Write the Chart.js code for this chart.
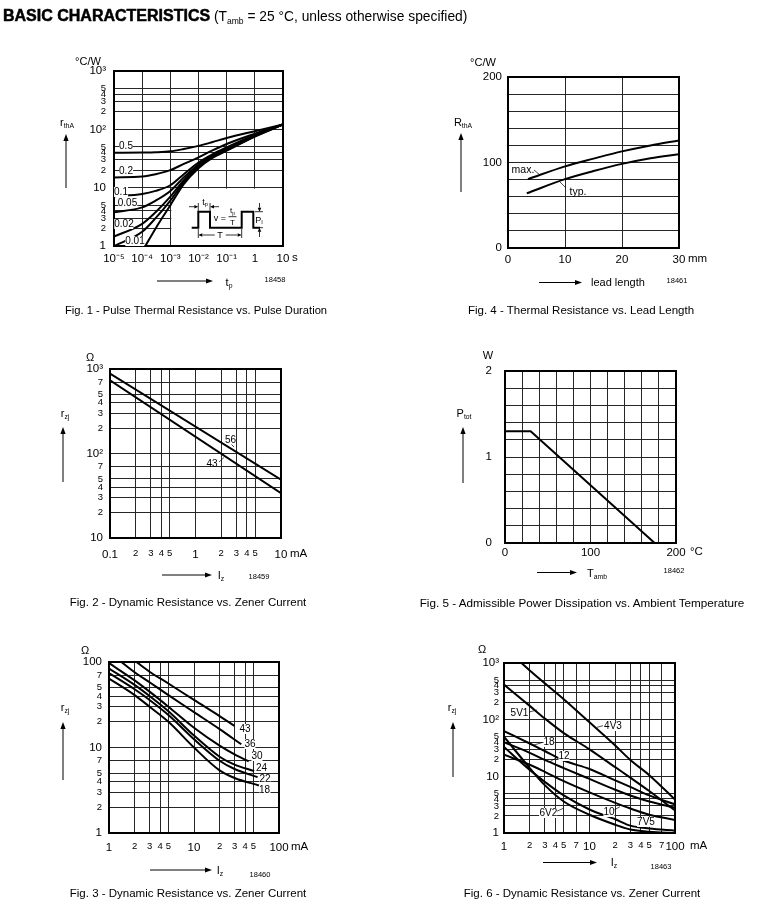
<!DOCTYPE html>
<html>
<head>
<meta charset="utf-8">
<script src="https://cdn.jsdelivr.net/npm/chart.js@4.4.1/dist/chart.umd.min.js"></script>
<style>
  body { margin:0; width:775px; height:917px; background:#fff; position:relative; overflow:hidden;
         font-family:"Liberation Sans", Arial, Helvetica, sans-serif; color:#000; }
  canvas { position:absolute; z-index:1; }
  #over { position:absolute; left:0; top:0; z-index:2; }
  .t { position:absolute; white-space:nowrap; line-height:1; z-index:3; }
  .t sub { font-size:62%; vertical-align:-0.35em; line-height:0; }
  .bg { background:#fff; }
</style>
</head>
<body>
<div class="t" style="left:3px;top:8px;font-size:13.8px"><b style="font-size:16px;-webkit-text-stroke:0.5px #000">BASIC CHARACTERISTICS</b> (T<sub>amb</sub> = 25 °C, unless otherwise specified)</div>
<svg id="over" width="775" height="917"></svg>
<script>
// ---- Fig. 1 - pulse thermal resistance vs. pulse duration (duty cycle v)
const f1Time = [1e-5, 1e-4, 3e-4, 1e-3, 3e-3, 1e-2, 3e-2, 1e-1, 1, 10];
const f1Duty05 = [39.5, 40, 40.5, 42, 46, 52, 60, 71, 93, 121];
const f1Duty02 = [15, 15.5, 17, 20, 25.5, 33, 43, 56, 84, 121];
const f1Duty01 = [7.1, 7.8, 8.8, 11, 17, 27, 37, 49, 80, 121];
const f1Duty005 = [3.8, 4.6, 6, 8.8, 15, 25, 35, 47, 78, 121];
const f1Duty002 = [1.45, 2.4, 3.8, 7, 13.5, 23.5, 34, 45, 77, 121];
const f1Duty001 = [1.0, 1.75, 3.0, 6, 12.5, 22.5, 33, 44, 76, 121];
const f1SingleTime = [1.3e-4, 3e-4, 1e-3, 3e-3, 1e-2, 3e-2, 1e-1, 1, 10];
const f1Single = [1, 2, 5, 11.5, 21.5, 32, 43, 75, 121];
const f1XTicks = [1e-5, 1e-4, 1e-3, 1e-2, 1e-1, 1, 10];
const f1XLabels = ['10⁻⁵', '10⁻⁴', '10⁻³', '10⁻²', '10⁻¹', '1', '10'];
const f1YTicks = [1, 2, 3, 4, 5, 10, 20, 30, 40, 50, 100, 200, 300, 400, 500, 1000];
const f1YLabels = ['1', '2', '3', '4', '5', '10', '2', '3', '4', '5', '10²', '2', '3', '4', '5', '10³'];
const f1InsetCorner = [1e-3, 10];

// ---- Fig. 4 - thermal resistance vs. lead length
const f4MaxLen = [3.5, 10, 15, 20, 25, 30];
const f4Max = [80.5, 95.5, 104.5, 113, 120, 125.8];
const f4TypLen = [3.3, 10, 15, 20, 25, 30];
const f4Typ = [64, 80.5, 90, 98.4, 105, 109.8];
const f4XTicks = [0, 10, 20, 30];
const f4XLabels = ['0', '10', '20', '30'];
const f4YTicks = [0, 20, 40, 60, 80, 100, 120, 140, 160, 180, 200];
const f4YLabels = ['0', '', '', '', '', '100', '', '', '', '', '200'];

// ---- Fig. 2 - dynamic resistance vs. zener current (43 V, 56 V)
const f2Current = [0.1, 10];
const f2Rz56 = [880, 49];
const f2Rz43 = [735, 34];
const f2XTicks = [0.1, 0.2, 0.3, 0.4, 0.5, 1, 2, 3, 4, 5, 10];
const f2XLabels = ['0.1', '2', '3', '4', '5', '1', '2', '3', '4', '5', '10'];
const f2YTicks = [10, 20, 30, 40, 50, 70, 100, 200, 300, 400, 500, 700, 1000];
const f2YLabels = ['10', '2', '3', '4', '5', '7', '10²', '2', '3', '4', '5', '7', '10³'];

// ---- Fig. 5 - admissible power dissipation vs. ambient temperature
const f5Temp = [0, 30, 175];
const f5Ptot = [1.3, 1.3, 0];
const f5XTicks = [0, 20, 40, 60, 80, 100, 120, 140, 160, 180, 200];
const f5XLabels = ['0', '', '', '', '', '100', '', '', '', '', '200'];
const f5YTicks = [0, 0.2, 0.4, 0.6, 0.8, 1, 1.2, 1.4, 1.6, 1.8, 2];
const f5YLabels = ['0', '', '', '', '', '1', '', '', '', '', '2'];

// ---- Fig. 3 - dynamic resistance vs. zener current (18 ... 43 V)
const f3I43 = [2.1, 3, 5, 10, 20, 30];
const f3Rz43 = [100, 77, 56, 36, 23.3, 17.9];
const f3I36 = [1.4, 2, 3, 5, 10, 20, 36];
const f3Rz36 = [100, 76, 58, 41, 25.9, 16.4, 10.9];
const f3I30 = [1, 2, 3, 5, 10, 20, 30, 44];
const f3Rz30 = [97, 61, 45, 30, 17, 10.5, 8.3, 6.9];
const f3I24 = [1, 2, 3, 5, 10, 20, 30, 51];
const f3Rz24 = [84, 54, 40, 26.5, 13.8, 7.8, 6.3, 5.3];
const f3I22 = [1, 2, 3, 5, 10, 20, 30, 56];
const f3Rz22 = [74, 48, 36, 24, 12.5, 7, 5.6, 4.5];
const f3I18 = [1, 2, 3, 5, 10, 20, 30, 58];
const f3Rz18 = [64, 41, 30, 20, 10, 5.4, 4.4, 3.6];
const f3XTicks = [1, 2, 3, 4, 5, 10, 20, 30, 40, 50, 100];
const f3XLabels = ['1', '2', '3', '4', '5', '10', '2', '3', '4', '5', '100'];
const f3YTicks = [1, 2, 3, 4, 5, 7, 10, 20, 30, 40, 50, 70, 100];
const f3YLabels = ['1', '2', '3', '4', '5', '7', '10', '2', '3', '4', '5', '7', '100'];

// ---- Fig. 6 - dynamic resistance vs. zener current (4V3 ... 18 V)
const f6I4V3 = [1.6, 2, 3, 5, 10, 20, 30, 50, 100];
const f6Rz4V3 = [1000, 740, 440, 230, 90, 35, 19.5, 10.5, 3.9];
const f6Current = [1, 2, 3, 5, 10, 20, 30, 50, 100];
const f6Rz5V1 = [415, 175, 105, 58, 30, 14.5, 9.5, 5.5, 2.5];
const f6Rz18 = [63, 38, 28, 19, 13.5, 8.5, 6.5, 4.6, 3.2];
const f6Rz12 = [40, 26, 19.5, 14, 9, 5.8, 4.6, 3.6, 2.8];
const f6Rz10 = [24, 16, 12, 8.2, 5.2, 3.4, 2.7, 2.1, 1.7];
const f6Rz6V2 = [50, 14, 7, 3.6, 2.1, 1.4, 1.15, 1.05, 1.0];
const f6Rz7V5 = [33, 13, 8, 4.6, 2.6, 1.75, 1.35, 1.2, 1.1];
const f6XTicks = [1, 2, 3, 4, 5, 7, 10, 20, 30, 40, 50, 70, 100];
const f6XLabels = ['1', '2', '3', '4', '5', '7', '10', '2', '3', '4', '5', '7', '100'];
const f6YTicks = [1, 2, 3, 4, 5, 10, 20, 30, 40, 50, 100, 200, 300, 400, 500, 1000];
const f6YLabels = ['1', '2', '3', '4', '5', '10', '2', '3', '4', '5', '10²', '2', '3', '4', '5', '10³'];

// plot rectangles on the page [left, top, right, bottom]
const BOX1 = [114, 71, 283, 246];
const BOX4 = [508, 77, 679, 248];
const BOX2 = [110, 369, 281, 538];
const BOX5 = [505, 371, 676, 543];
const BOX3 = [109, 662, 279, 833];
const BOX6 = [504, 663, 675, 833];

Chart.defaults.font.family = 'Liberation Sans';
const INK = '#000', GRID = '#262626';

function pts(xs, ys) { return xs.map((x, i) => ({x: x, y: ys[i]})); }

function isMinor(type, v) {
  if (type !== 'logarithmic') return false;
  const l = Math.log10(v);
  return Math.abs(l - Math.round(l)) > 1e-9;
}

function scale(a, dir, size) {
  return {
    type: a.type, min: a.min, max: a.max,
    afterBuildTicks: s => { s.ticks = a.ticks.map(v => ({value: v})); },
    afterFit: s => {
      if (dir === 'x') s.height = size; else s.width = size;
      s.paddingLeft = s.paddingRight = s.paddingTop = s.paddingBottom = 0;
    },
    grid: {color: GRID, lineWidth: 1, drawTicks: false},
    border: {display: false},
    ticks: {
      autoSkip: false, maxRotation: 0, minRotation: 0, padding: a.pad, color: INK,
      font: c => ({family: 'Liberation Sans', size: isMinor(a.type, a.ticks[c.index]) ? 9.5 : 11.5}),
      callback: (v, i) => a.labels[i]
    }
  };
}

const frame = {
  id: 'frame',
  afterDatasetsDraw(c) {
    const a = c.chartArea, g = c.ctx;
    g.save();
    g.lineWidth = 2; g.strokeStyle = INK;
    g.strokeRect(a.left, a.top, a.right - a.left, a.bottom - a.top);
    g.restore();
  }
};

function plot(box, xa, ya, sets, extra) {
  const padL = 58, padT = 14, padR = 44, padB = 34;
  const w = box[2] - box[0] + padL + padR, h = box[3] - box[1] + padT + padB;
  const cv = document.createElement('canvas');
  cv.width = w; cv.height = h;
  cv.style.left = (box[0] - padL) + 'px'; cv.style.top = (box[1] - padT) + 'px';
  cv.style.width = w + 'px'; cv.style.height = h + 'px';
  document.body.appendChild(cv);
  return new Chart(cv.getContext('2d'), {
    type: 'line',
    data: {
      datasets: sets.map(s => ({
        data: s.data, borderColor: INK, borderWidth: 2, pointRadius: 0, fill: false,
        cubicInterpolationMode: s.straight ? 'default' : 'monotone', tension: 0
      }))
    },
    options: {
      responsive: false, animation: false, devicePixelRatio: 1,
      layout: {padding: {left: 0, top: padT, right: padR, bottom: 0}},
      plugins: {legend: {display: false}, tooltip: {enabled: false}},
      scales: {x: scale(xa, 'x', padB), y: scale(ya, 'y', padL)}
    },
    plugins: [frame].concat(extra || [])
  });
}

// white inset area of Fig. 1 (no grid behind the pulse sketch)
const insetBlank = {
  id: 'insetBlank',
  beforeDatasetsDraw(c) {
    const a = c.chartArea, g = c.ctx;
    const l = c.scales.x.getPixelForValue(f1InsetCorner[0]) + 1;
    const t = c.scales.y.getPixelForValue(f1InsetCorner[1]) + 1;
    g.save(); g.fillStyle = '#fff'; g.fillRect(l, t, a.right - l, a.bottom - t); g.restore();
  }
};

// Fig. 1
plot(BOX1,
  {type: 'logarithmic', min: 1e-5, max: 10, ticks: f1XTicks, labels: f1XLabels, pad: 6},
  {type: 'logarithmic', min: 1, max: 1000, ticks: f1YTicks, labels: f1YLabels, pad: 8},
  [f1Duty05, f1Duty02, f1Duty01, f1Duty005, f1Duty002, f1Duty001].map(d => ({data: pts(f1Time, d)}))
    .concat([{data: pts(f1SingleTime, f1Single)}]),
  [insetBlank]);

// Fig. 4
plot(BOX4,
  {type: 'linear', min: 0, max: 30, ticks: f4XTicks, labels: f4XLabels, pad: 5},
  {type: 'linear', min: 0, max: 200, ticks: f4YTicks, labels: f4YLabels, pad: 6},
  [{data: pts(f4MaxLen, f4Max)}, {data: pts(f4TypLen, f4Typ)}]);

// Fig. 2
plot(BOX2,
  {type: 'logarithmic', min: 0.1, max: 10, ticks: f2XTicks, labels: f2XLabels, pad: 10},
  {type: 'logarithmic', min: 10, max: 1000, ticks: f2YTicks, labels: f2YLabels, pad: 7},
  [{data: pts(f2Current, f2Rz56), straight: true}, {data: pts(f2Current, f2Rz43), straight: true}]);

// Fig. 5
plot(BOX5,
  {type: 'linear', min: 0, max: 200, ticks: f5XTicks, labels: f5XLabels, pad: 3},
  {type: 'linear', min: 0, max: 2, ticks: f5YTicks, labels: f5YLabels, pad: 13},
  [{data: pts(f5Temp, f5Ptot), straight: true}]);

// Fig. 3
plot(BOX3,
  {type: 'logarithmic', min: 1, max: 100, ticks: f3XTicks, labels: f3XLabels, pad: 8},
  {type: 'logarithmic', min: 1, max: 100, ticks: f3YTicks, labels: f3YLabels, pad: 7},
  [[f3I43, f3Rz43], [f3I36, f3Rz36], [f3I30, f3Rz30], [f3I24, f3Rz24], [f3I22, f3Rz22], [f3I18, f3Rz18]]
    .map(p => ({data: pts(p[0], p[1])})));

// Fig. 6
plot(BOX6,
  {type: 'logarithmic', min: 1, max: 100, ticks: f6XTicks, labels: f6XLabels, pad: 7},
  {type: 'logarithmic', min: 1, max: 1000, ticks: f6YTicks, labels: f6YLabels, pad: 5},
  [{data: pts(f6I4V3, f6Rz4V3)}].concat(
    [f6Rz5V1, f6Rz18, f6Rz12, f6Rz10, f6Rz6V2, f6Rz7V5].map(d => ({data: pts(f6Current, d)}))));

// ---- annotations: arrows, leaders, pulse sketch
const parts = [];
function ln(x1, y1, x2, y2, w) {
  parts.push(`<line x1="${x1}" y1="${y1}" x2="${x2}" y2="${y2}" stroke="#000" stroke-width="${w || 1}"/>`);
}
function arr(x1, y1, x2, y2, w, hl, hw) {
  w = w || 1; hl = hl || 7; hw = hw || 2.6;
  const dx = x2 - x1, dy = y2 - y1, L = Math.hypot(dx, dy), ux = dx / L, uy = dy / L;
  const bx = x2 - ux * hl, by = y2 - uy * hl;
  ln(x1, y1, bx, by, w);
  parts.push(`<polygon points="${x2},${y2} ${bx - uy * hw},${by + ux * hw} ${bx + uy * hw},${by - ux * hw}" fill="#000"/>`);
}
// axis arrows
arr(157, 281, 213, 281); arr(66, 188, 66, 134);
arr(539, 282.5, 582, 282.5); arr(461, 192, 461, 133);
arr(162, 575, 212, 575); arr(63, 482, 63, 427);
arr(537, 572.5, 577, 572.5); arr(463, 483, 463, 427);
arr(150, 870, 212, 870); arr(63, 780, 63, 722);
arr(543, 862.5, 597, 862.5); arr(453, 777, 453, 722);
// pulse sketch of Fig. 1
parts.push('<polyline points="191.7,227.7 198.3,227.7 198.3,211.7 210,211.7 210,227.7 241.7,227.7 241.7,211.7 253.3,211.7 253.3,227.7 260,227.7" fill="none" stroke="#000" stroke-width="2"/>');
arr(189, 206.7, 198.3, 206.7, 0.8, 4, 1.8); arr(219, 206.7, 210, 206.7, 0.8, 4, 1.8);
ln(198.3, 203, 198.3, 211.7, 0.8); ln(210, 203, 210, 211.7, 0.8);
ln(228.5, 216.7, 236.5, 216.7, 0.8);
arr(220, 235, 198.3, 235, 0.8, 4, 1.8); arr(220, 235, 241.7, 235, 0.8, 4, 1.8);
ln(198.3, 229, 198.3, 238, 0.8); ln(241.7, 229, 241.7, 238, 0.8);
arr(259.5, 203, 259.5, 211.7, 0.8, 4, 1.8); arr(259.5, 237, 259.5, 227.7, 0.8, 4, 1.8);
ln(255, 211.7, 263, 211.7, 0.8); ln(255, 227.7, 263, 227.7, 0.8);
// curve label leaders
ln(534, 170, 540, 175, 0.7); ln(566, 188, 559, 181, 0.7);
ln(231.5, 444.5, 234, 447, 0.7); ln(219, 462, 224, 457.5, 0.7);
ln(529, 712, 537, 710, 0.7); ln(597, 727.3, 603, 725.7, 0.7);
ln(534, 745, 541.7, 742.7, 0.7); ln(550, 761.7, 557, 757.3, 0.7);
ln(556, 811.7, 563.3, 808.3, 0.7); ln(614, 810, 620, 806.7, 0.7);
document.getElementById('over').innerHTML = parts.join('');

// ---- texts: [x, y, html, size, flags]  (L = left anchored, B = white box)
const texts = [
  // Fig. 1
  [88, 61, '°C/W', 11], [67, 122, 'r<sub>thA</sub>', 11], [292, 258, 's', 11.5, 'L'],
  [229, 282, 't<sub>p</sub>', 11], [275, 280, '18458', 7.5],
  [126, 146, '0.5', 10, 'B'], [126, 171, '0.2', 10, 'B'], [121, 191.5, '0.1', 10, 'B'],
  [127.5, 202.5, '0.05', 10, 'B'], [124, 223.5, '0.02', 10, 'B'], [135, 240.5, '0.01', 10, 'B'],
  [205, 201.5, 't<sub>p</sub>', 9], [220, 218.3, 'v =', 9], [232.5, 211, 't<sub>p</sub>', 8],
  [232.5, 223, 'T', 8], [220, 235, '&nbsp;T&nbsp;', 9, 'B'], [259, 219.5, 'P<sub>I</sub>', 9],
  // Fig. 4
  [483, 62, '°C/W', 11], [463, 122, 'R<sub>thA</sub>', 11], [688, 259, 'mm', 11.5, 'L'],
  [591, 282, 'lead length', 11, 'L'], [677, 281, '18461', 7.5],
  [523, 169, 'max.', 10.5], [578, 191, 'typ.', 10.5],
  // Fig. 2
  [90, 357, 'Ω', 11], [65, 413, 'r<sub>zj</sub>', 11], [290, 554, 'mA', 11.5, 'L'],
  [221, 575, 'I<sub>z</sub>', 11], [259, 577, '18459', 7.5],
  [230.5, 440, '56', 10], [212, 463.5, '43', 10],
  // Fig. 5
  [488, 355, 'W', 11], [464, 413, 'P<sub>tot</sub>', 11], [690, 552, '°C', 11.5, 'L'],
  [597, 573, 'T<sub>amb</sub>', 11], [674, 571, '18462', 7.5],
  // Fig. 3
  [85, 650, 'Ω', 11], [65, 707, 'r<sub>zj</sub>', 11], [291, 846.5, 'mA', 11.5, 'L'],
  [220, 870, 'I<sub>z</sub>', 11], [260, 875, '18460', 7.5],
  [245, 729, '43', 10, 'B'], [250, 744, '36', 10, 'B'], [257, 755.5, '30', 10, 'B'],
  [261.5, 768, '24', 10, 'B'], [265, 778.5, '22', 10, 'B'], [264.5, 790, '18', 10, 'B'],
  // Fig. 6
  [482, 649, 'Ω', 11], [452, 707, 'r<sub>zj</sub>', 11], [690, 846, 'mA', 11.5, 'L'],
  [614, 862, 'I<sub>z</sub>', 11], [661, 867, '18463', 7.5],
  [519.5, 712.7, '5V1', 10, 'B'], [613, 726, '4V3', 10, 'B'], [549, 741.7, '18', 10, 'B'],
  [564, 755.7, '12', 10, 'B'], [548.3, 812.7, '6V2', 10, 'B'], [609, 811.7, '10', 10, 'B'],
  [646, 821.7, '7V5', 10, 'B'],
  // captions
  [196, 311, 'Fig. 1 - Pulse Thermal Resistance vs. Pulse Duration', 11.2],
  [581, 311, 'Fig. 4 - Thermal Resistance vs. Lead Length', 11.5],
  [188, 603, 'Fig. 2 - Dynamic Resistance vs. Zener Current', 11.5],
  [582, 603, 'Fig. 5 - Admissible Power Dissipation vs. Ambient Temperature', 11.7],
  [188, 894, 'Fig. 3 - Dynamic Resistance vs. Zener Current', 11.5],
  [582, 894, 'Fig. 6 - Dynamic Resistance vs. Zener Current', 11.5]
];
texts.forEach(t => {
  const d = document.createElement('div');
  d.className = 't' + ((t[4] || '').includes('B') ? ' bg' : '');
  d.innerHTML = t[2];
  d.style.left = t[0] + 'px';
  d.style.top = t[1] + 'px';
  d.style.fontSize = t[3] + 'px';
  d.style.transform = (t[4] || '').includes('L') ? 'translate(0,-50%)' : 'translate(-50%,-50%)';
  document.body.appendChild(d);
});
</script>
</body>
</html>
